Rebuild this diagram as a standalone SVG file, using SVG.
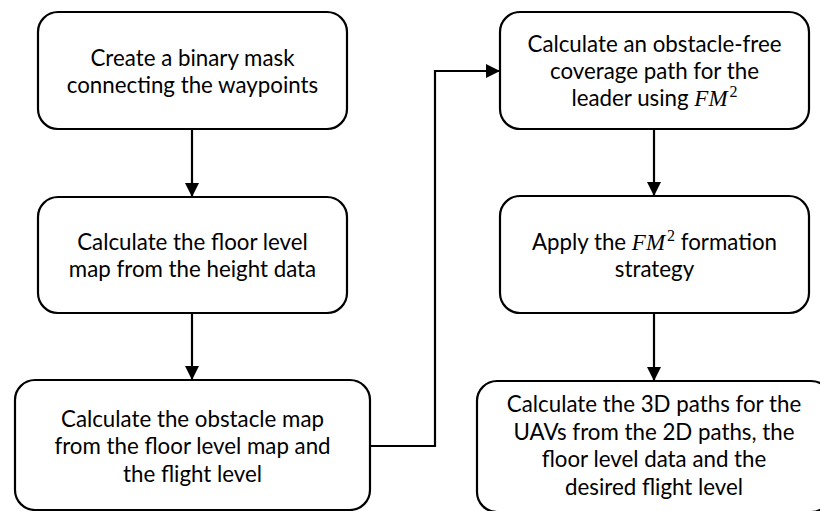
<svg xmlns="http://www.w3.org/2000/svg" width="820" height="511" viewBox="0 0 820 511">
  <style>
    .box { fill: #ffffff; stroke: #000000; stroke-width: 2.2; }
    .lbl { font-family: Lato, "Open Sans", "Liberation Sans", sans-serif; font-size: 22.3px; fill: #000000; text-anchor: middle; }
    .math { font-family: "Liberation Serif", "DejaVu Serif", serif; font-style: italic; font-size: 23px; }
    .sup { font-family: "Liberation Serif", "DejaVu Serif", serif; font-size: 16px; }
    .wire { fill: none; stroke: #000000; stroke-width: 2.2; }
  </style>
  <defs>
    <marker id="arrow" viewBox="0 0 14 14" refX="14" refY="7" markerWidth="14" markerHeight="14" markerUnits="userSpaceOnUse" orient="auto">
      <path d="M0,0 L14,7 L0,14 Z" fill="#000000"/>
    </marker>
  </defs>
  <rect width="820" height="511" fill="#ffffff"/>

  <g id="connectors">
    <line class="wire" x1="192" y1="129" x2="192" y2="197" marker-end="url(#arrow)"/>
    <line class="wire" x1="192" y1="313" x2="192" y2="380" marker-end="url(#arrow)"/>
    <polyline class="wire" points="370,446 435,446 435,71 500,71" marker-end="url(#arrow)"/>
    <line class="wire" x1="654" y1="129" x2="654" y2="196" marker-end="url(#arrow)"/>
    <line class="wire" x1="654" y1="313" x2="654" y2="381" marker-end="url(#arrow)"/>
  </g>

  <g id="mask">
    <rect class="box" x="38" y="12" width="309" height="117" rx="20"/>
    <text class="lbl" x="192.5" y="66">Create a binary mask</text>
    <text class="lbl" x="192.5" y="93">connecting the waypoints</text>
  </g>

  <g id="floor-map">
    <rect class="box" x="38" y="197" width="309" height="116" rx="20"/>
    <text class="lbl" x="192.5" y="250">Calculate the floor level</text>
    <text class="lbl" x="192.5" y="277">map from the height data</text>
  </g>

  <g id="obstacle-map">
    <rect class="box" x="15" y="380" width="355" height="130" rx="20"/>
    <text class="lbl" x="192.5" y="427">Calculate the obstacle map</text>
    <text class="lbl" x="192.5" y="454">from the floor level map and</text>
    <text class="lbl" x="192.5" y="482">the flight level</text>
  </g>

  <g id="coverage-path">
    <rect class="box" x="500" y="12" width="309" height="117" rx="20"/>
    <text class="lbl" x="654.5" y="52">Calculate an obstacle-free</text>
    <text class="lbl" x="654.5" y="79">coverage path for the</text>
    <text class="lbl" x="654.5" y="106">leader using <tspan class="math">FM</tspan><tspan class="sup" dx="2" dy="-9">2</tspan></text>
  </g>

  <g id="formation">
    <rect class="box" x="500" y="196" width="309" height="117" rx="20"/>
    <text class="lbl" x="654.5" y="250">Apply the <tspan class="math">FM</tspan><tspan class="sup" dx="2" dy="-9">2</tspan><tspan dy="9"> formation</tspan></text>
    <text class="lbl" x="654.5" y="277">strategy</text>
  </g>

  <g id="paths-3d">
    <rect class="box" x="477" y="381" width="354" height="131" rx="20"/>
    <text class="lbl" x="654" y="412">Calculate the 3D paths for the</text>
    <text class="lbl" x="654" y="440">UAVs from the 2D paths, the</text>
    <text class="lbl" x="654" y="467">floor level data and the</text>
    <text class="lbl" x="654" y="495">desired flight level</text>
  </g>
</svg>
